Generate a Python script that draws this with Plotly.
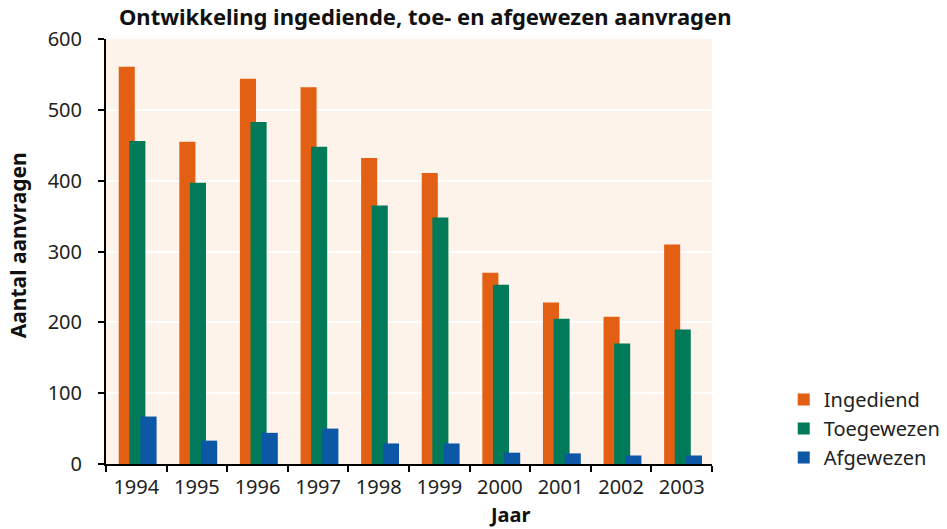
import plotly.graph_objects as go

years = ["1994", "1995", "1996", "1997", "1998", "1999", "2000", "2001", "2002", "2003"]
ingediend = [561, 455, 544, 532, 432, 411, 270, 228, 208, 310]
toegewezen = [456, 397, 483, 448, 365, 348, 253, 205, 170, 190]
afgewezen = [67, 33, 44, 50, 29, 29, 16, 15, 12, 12]

series = [
    ("Ingediend", ingediend, "#E35F14", -0.29),
    ("Toegewezen", toegewezen, "#007A58", -0.115),
    ("Afgewezen", afgewezen, "#0C57A6", 0.07),
]

fig = go.Figure()
for name, vals, color, off in series:
    fig.add_trace(go.Bar(
        x=years, y=vals, name=name, marker=dict(color=color, line=dict(width=0)),
        offset=off, width=0.265,
    ))

font = "Noto Sans, Open Sans, sans-serif"
fig.update_layout(
    barmode="overlay",
    width=947, height=529,
    margin=dict(l=106, r=235, t=39, b=65, autoexpand=False),
    paper_bgcolor="white",
    plot_bgcolor="#FDF3EA",
    font=dict(family=font, size=20, color="#222"),
    title=dict(text="<b>Ontwikkeling ingediende, toe- en afgewezen aanvragen</b>",
               x=0.449, xanchor="center", y=0.968, yanchor="middle",
               font=dict(size=22, color="#111")),
    xaxis=dict(
        type="category", tickson="boundaries", ticks="outside", ticklen=6, tickwidth=2,
        tickcolor="black", showline=True, linecolor="black", linewidth=2,
        showgrid=False, automargin=False, ticklabelstandoff=4,
        tickfont=dict(size=20, color="#222"),
    ),
    yaxis=dict(
        range=[0, 600], dtick=100, ticks="outside", ticklen=6, tickwidth=2,
        tickcolor="black", showline=True, linecolor="black", linewidth=2,
        showgrid=True, gridcolor="white", gridwidth=2, zeroline=False, automargin=False,
        ticklabelstandoff=12,
        tickfont=dict(size=20, color="#222"),
    ),
    xaxis2=dict(
        type="linear", overlaying="x", range=[-0.5, 9.5], tickmode="linear", tick0=-0.5, dtick=1,
        ticks="inside", ticklen=6, tickwidth=2, tickcolor="black", showticklabels=False,
        showgrid=False, zeroline=False, showline=False, side="bottom", anchor="y",
    ),
    yaxis2=dict(
        type="linear", overlaying="y", range=[0, 600], tickmode="linear", tick0=0, dtick=100,
        ticks="inside", ticklen=6, tickwidth=2, tickcolor="black", showticklabels=False,
        showgrid=False, zeroline=False, showline=False, side="left", anchor="x",
    ),
    annotations=[
        dict(text="<b>Jaar</b>", xref="paper", yref="paper", x=0.667, y=-0.118,
             xanchor="center", yanchor="middle", showarrow=False,
             font=dict(size=20, color="#111")),
        dict(text="<b>Aantal aanvragen</b>", xref="paper", yref="paper", x=-0.145, y=0.515,
             xanchor="center", yanchor="middle", showarrow=False, textangle=-90,
             font=dict(size=21, color="#111")),
    ],
    legend=dict(xref="container", yref="container", x=0.8276, y=0.19,
                xanchor="left", yanchor="middle",
                font=dict(size=20, color="#222"), itemsizing="constant",
                bgcolor="rgba(0,0,0,0)", traceorder="normal"),
)

fig.write_html("out.html", config={"displayModeBar": False},
               post_script="document.body.style.margin='0';")
